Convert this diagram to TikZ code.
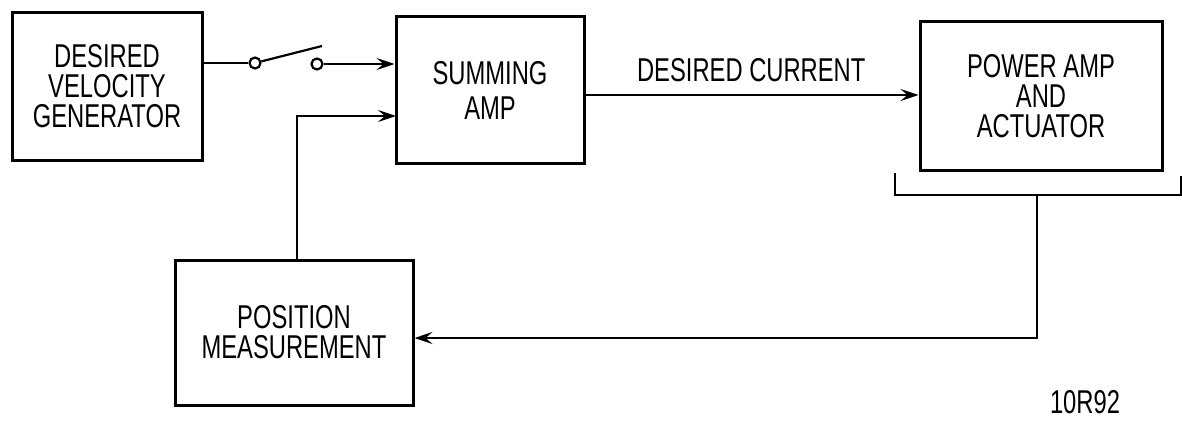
\documentclass[tikz,border=0pt]{standalone}
\usepackage{fontspec}
\setmainfont{Liberation Sans}[FakeStretch=0.72]
\usetikzlibrary{arrows.meta}
\begin{document}
\begin{tikzpicture}[x=1pt, y=-1pt, every node/.style={font=\fontsize{33}{30}\selectfont},
  blk/.style={draw, line width=3pt, align=center, inner sep=0pt},
  conn/.style={line width=2.2pt},
  arr/.style={conn, -{Stealth[length=18pt,width=12pt,inset=7pt]}},
  contact/.style={circle, draw, line width=2.2pt, minimum size=11pt, inner sep=0pt}]
\useasboundingbox (0,0) rectangle (1182,420);
% blocks
\node[blk, minimum width=190pt, minimum height=147pt] (gen) at (107,86.5) {DESIRED\\VELOCITY\\GENERATOR};
\node[blk, minimum width=188pt, minimum height=146pt] (sum) at (490,90) {SUMMING\\[5pt]AMP};
\node[blk, minimum width=242pt, minimum height=148pt] (pwr) at (1041,96) {POWER AMP\\AND\\ACTUATOR};
\node[blk, minimum width=238pt, minimum height=145pt] (pos) at (294,332.5) {POSITION\\MEASUREMENT};
% switch
\node[contact] (c1) at (255,63) {};
\node[contact] (c2) at (317,64) {};
\coordinate (blade) at (322,46);
\draw[conn] (gen.east |- c1) -- (c1.west);
\draw[conn] (c1.14) -- (blade);
\draw[arr] (c2.east) -- (c2.east -| sum.west);
% feedback into summing amp
\coordinate (in2) at (396,116);
\draw[arr] ([xshift=3pt]pos.north) |- (in2);
% desired current
\coordinate (dc) at (584,95);
\draw[arr] (dc) -- (dc -| pwr.west) node[midway, above=12pt, inner sep=0pt] {DESIRED CURRENT};
% bracket and return path
\coordinate (brl) at (895,195);
\coordinate (brr) at (1181,195);
\coordinate (brm) at (1037,195);
\coordinate (fb) at (1037,338);
\draw[conn] (brl |- 0,173) -- (brl) -- (brr) -- (brr |- 0,176);
\draw[arr] (brm) -- (fb) -- (fb -| pos.east);
\node[anchor=base, inner sep=0pt] (tag) at (1085,413) {10R92};
\end{tikzpicture}
\end{document}
